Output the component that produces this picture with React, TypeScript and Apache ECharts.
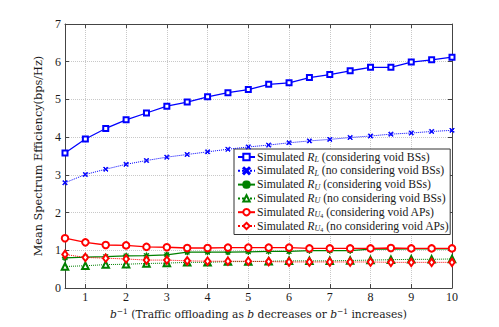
import React, { useEffect, useRef } from "react";
import * as echarts from "echarts";

const xValues = [0.5, 1, 1.5, 2, 2.5, 3, 3.5, 4, 4.5, 5, 5.5, 6, 6.5, 7, 7.5, 8, 8.5, 9, 9.5, 10];
const xTicks = [1, 2, 3, 4, 5, 6, 7, 8, 9, 10];

const rlVoid = [3.58, 3.95, 4.23, 4.46, 4.64, 4.82, 4.93, 5.07, 5.18, 5.26, 5.40, 5.44, 5.58, 5.66, 5.76, 5.85, 5.85, 5.99, 6.05, 6.12];
const rlNoVoid = [2.79, 3.01, 3.15, 3.28, 3.38, 3.47, 3.54, 3.61, 3.68, 3.74, 3.79, 3.85, 3.90, 3.94, 3.99, 4.03, 4.08, 4.11, 4.15, 4.18];
const ruVoid = [0.80, 0.82, 0.83, 0.85, 0.86, 0.88, 0.95, 0.95, 0.95, 0.96, 0.97, 0.97, 0.99, 0.99, 0.99, 1.03, 1.03, 1.04, 1.04, 1.04];
const ruNoVoid = [0.57, 0.59, 0.62, 0.63, 0.65, 0.66, 0.68, 0.68, 0.70, 0.70, 0.71, 0.72, 0.72, 0.72, 0.73, 0.74, 0.75, 0.76, 0.76, 0.77];
const ru4Void = [1.32, 1.21, 1.14, 1.13, 1.09, 1.08, 1.06, 1.06, 1.07, 1.07, 1.07, 1.07, 1.05, 1.05, 1.05, 1.05, 1.06, 1.05, 1.05, 1.05];
const ru4NoVoid = [0.89, 0.81, 0.79, 0.77, 0.74, 0.74, 0.72, 0.71, 0.71, 0.71, 0.70, 0.69, 0.69, 0.69, 0.69, 0.69, 0.68, 0.68, 0.68, 0.68];

const legendNames = ["rlVoid", "rlNoVoid", "ruVoid", "ruNoVoid", "ru4Void", "ru4NoVoid"];
const legendLabels: Record<string, string> = {
  rlVoid: "{t|Simulated }{i|R}{s|L}{t| (considering void BSs)}",
  rlNoVoid: "{t|Simulated }{i|R}{s|L}{t| (no considering void BSs)}",
  ruVoid: "{t|Simulated }{i|R}{s|U}{t| (considering void BSs)}",
  ruNoVoid: "{t|Simulated }{i|R}{s|U}{t| (no considering void BSs)}",
  ru4Void: "{t|Simulated }{i|R}{s|U}{ss|4}{t| (considering void APs)}",
  ru4NoVoid: "{t|Simulated }{i|R}{s|U}{ss|4}{t| (no considering void APs)}",
};

const FONT = "'Liberation Serif', 'DejaVu Serif', serif";
const WIDE = "'DejaVu Serif', 'Liberation Serif', serif";
const BLUE = "#0000ff";
const GREEN = "#008000";
const RED = "#ff0000";
const TXT = "#1a1a1a";

const CROSS = "path://M0,1.2 L1.2,0 L5,3.8 L8.8,0 L10,1.2 L6.2,5 L10,8.8 L8.8,10 L5,6.2 L1.2,10 L0,8.8 L3.8,5 Z";
const STAR =
  "path://M4.4,0 L5.6,0 L5.6,10 L4.4,10 Z M0,4.4 L10,4.4 L10,5.6 L0,5.6 Z M0.8,1.6 L1.6,0.8 L5,4.2 L8.4,0.8 L9.2,1.6 L5.8,5 L9.2,8.4 L8.4,9.2 L5,5.8 L1.6,9.2 L0.8,8.4 L4.2,5 Z";

export default function App() {
  const ref = useRef<HTMLDivElement>(null);
  useEffect(() => {
    if (!ref.current) return;
    const chart = echarts.init(ref.current, null, { renderer: "svg" });
    const pair = (ys: number[]) => xValues.map((x, i) => [x, ys[i]]);
    const axisLineStyle = { color: "#444", width: 1 };
    const mk = (
      name: string,
      ys: number[],
      color: string,
      symbol: string,
      symbolSize: number | number[],
      dotted: boolean,
      z: number
    ) => ({
      type: "line",
      name,
      data: pair(ys),
      symbol,
      symbolSize,
      showSymbol: true,
      z,
      lineStyle: { color, width: dotted ? 1 : 1.3, type: dotted ? "dotted" : "solid" },
      itemStyle: { color, borderColor: color, borderWidth: 1 },
    });
    chart.setOption({
      animation: false,
      backgroundColor: "#fff",
      grid: { left: 65, right: 47, top: 24, bottom: 39 },
      xAxis: [
        {
          type: "value",
          min: 0.5,
          max: 10,
          position: "bottom",
          name: "{i|b}{sup|\u22121}{t| (Traffic offloading as }{i|b}{t| decreases or }{i|b}{sup|\u22121}{t| increases)}",
          nameLocation: "middle",
          nameGap: 9,
          nameTextStyle: {
            fontFamily: WIDE,
            color: TXT,
            rich: {
              t: { fontFamily: WIDE, fontSize: 10.7, color: TXT, lineHeight: 14 },
              i: { fontFamily: WIDE, fontSize: 10.7, fontStyle: "italic", color: TXT, lineHeight: 14 },
              sup: { fontFamily: WIDE, fontSize: 7.5, color: TXT, lineHeight: 8, verticalAlign: "top" },
            },
          },
          axisLine: { show: true, onZero: false, lineStyle: axisLineStyle },
          axisTick: { show: true, inside: true, length: 4, customValues: xTicks, lineStyle: axisLineStyle },
          axisLabel: { customValues: xTicks, fontFamily: FONT, fontSize: 12, color: TXT, margin: 3 },
          splitLine: { show: true, lineStyle: { color: "#c8c8c8", type: "dotted", width: 1 } },
        },
        {
          type: "value",
          min: 0.5,
          max: 10,
          position: "top",
          axisLine: { show: true, onZero: false, lineStyle: axisLineStyle },
          axisTick: { show: true, inside: true, length: 4, customValues: xTicks, lineStyle: axisLineStyle },
          axisLabel: { show: false },
          splitLine: { show: false },
        },
      ],
      yAxis: [
        {
          type: "value",
          min: 0,
          max: 7,
          interval: 1,
          position: "left",
          name: "Mean Spectrum Efficiency(bps/Hz)",
          nameLocation: "middle",
          nameGap: 18,
          nameTextStyle: { fontFamily: WIDE, fontSize: 11.3, color: TXT },
          axisLine: { show: true, onZero: false, lineStyle: axisLineStyle },
          axisTick: { show: true, inside: true, length: 4, lineStyle: axisLineStyle },
          axisLabel: { fontFamily: FONT, fontSize: 12, color: TXT, margin: 4 },
          splitLine: { show: true, lineStyle: { color: "#c8c8c8", type: "dotted", width: 1 } },
        },
        {
          type: "value",
          min: 0,
          max: 7,
          interval: 1,
          position: "right",
          axisLine: { show: true, onZero: false, lineStyle: axisLineStyle },
          axisTick: { show: true, inside: true, length: 4, lineStyle: axisLineStyle },
          axisLabel: { show: false },
          splitLine: { show: false },
        },
      ],
      legend: {
        data: legendNames,
        orient: "vertical",
        left: 234,
        top: 149,
        itemWidth: 17,
        itemHeight: 8,
        itemGap: 1.3,
        padding: [2, 1, 2, 3],
        backgroundColor: "#fff",
        borderColor: "#333",
        borderWidth: 1,
        formatter: (n: string) => legendLabels[n],
        textStyle: {
          fontFamily: FONT,
          color: TXT,
          padding: [0, 0, 0, -3],
          rich: {
            t: { fontFamily: FONT, fontSize: 11.7, color: TXT, lineHeight: 13 },
            i: { fontFamily: FONT, fontSize: 11.7, fontStyle: "italic", color: TXT, lineHeight: 13 },
            s: { fontFamily: FONT, fontSize: 8, fontStyle: "italic", color: TXT, lineHeight: 7, verticalAlign: "bottom" },
            ss: { fontFamily: FONT, fontSize: 6, color: TXT, lineHeight: 5, verticalAlign: "bottom" },
          },
        },
      },
      series: [
        mk("rlVoid", rlVoid, BLUE, "emptyRect", 5, false, 5),
        mk("rlNoVoid", rlNoVoid, BLUE, CROSS, 4.5, true, 4),
        mk("ruVoid", ruVoid, GREEN, STAR, 5.5, false, 3),
        mk("ruNoVoid", ruNoVoid, GREEN, "emptyTriangle", 6.5, true, 2),
        mk("ru4Void", ru4Void, RED, "emptyCircle", 6.5, false, 6),
        mk("ru4NoVoid", ru4NoVoid, RED, "emptyDiamond", [5.5, 7.5], true, 7),
      ],
    });
    return () => chart.dispose();
  }, []);
  return <div ref={ref} style={{ position: "fixed", left: 0, top: 0, width: 499, height: 327 }} />;
}
